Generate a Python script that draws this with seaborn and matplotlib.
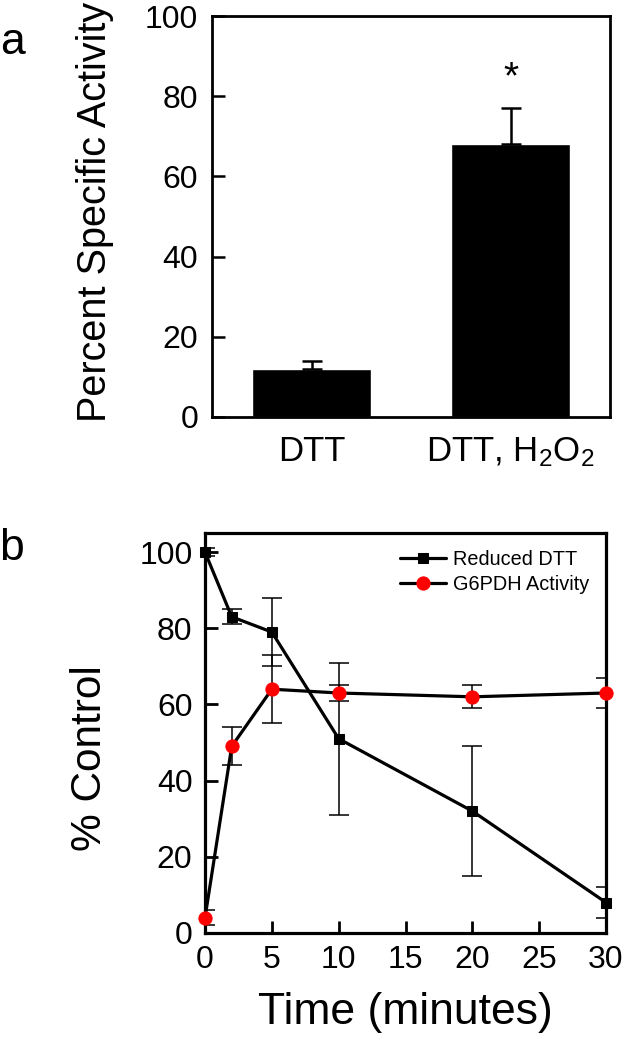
import numpy as np
import pandas as pd
import matplotlib
matplotlib.use("Agg")
import matplotlib.pyplot as plt
import seaborn as sns

# ---- data ----
conditions = ["DTT", "DTT, H$\\mathregular{_2}$O$\\mathregular{_2}$"]
activity = [12, 68]
activity_err = [2, 9]

time_min = [0, 2, 5, 10, 20, 30]
reduced_dtt = [100, 83, 79, 51, 32, 8]
reduced_dtt_err = [1, 2, 9, 20, 17, 4]
g6pdh = [4, 49, 64, 63, 62, 63]
g6pdh_err = [2, 5, 9, 2, 3, 4]

sns.set_theme(style="white")
plt.rcParams["font.family"] = ["Liberation Sans", "DejaVu Sans"]
plt.rcParams["mathtext.fontset"] = "custom"
plt.rcParams["mathtext.rm"] = "Liberation Sans"
for k in ["text.color", "axes.labelcolor", "xtick.color", "ytick.color", "axes.edgecolor"]:
    plt.rcParams[k] = "black"

fig = plt.figure(figsize=(6.24, 10.5), dpi=100)

# ---- panel a ----
ax1 = fig.add_axes([212/624, 1-417/1050, 398/624, 401/1050])
df_a = pd.DataFrame({"cond": conditions, "act": activity})
sns.barplot(data=df_a, x="cond", y="act", color="black", width=0.6,
            errorbar=None, ax=ax1, saturation=1)
ax1.errorbar(range(len(conditions)), activity,
             yerr=[[0]*len(activity), activity_err], fmt="none",
             ecolor="black", elinewidth=1.8, capsize=7, capthick=1.8, zorder=1)
ax1.set_xlim(-0.5, 1.5)
ax1.set_ylim(0, 100)
ax1.set_yticks([0, 20, 40, 60, 80, 100])
ax1.set_xlabel("")
ax1.set_ylabel("")
ax1.tick_params(axis="y", direction="in", length=9, width=1.8, labelsize=23, pad=10, left=True)
ax1.tick_params(axis="x", length=0, labelsize=25, pad=13)
for s in ax1.spines.values():
    s.set_visible(True)
    s.set_linewidth(2)
    s.set_color("black")
ax1.text(1, 84.5, "*", ha="center", va="center", fontsize=28)
fig.text(95/624, 1-212/1050, "Percent Specific Activity", rotation=90,
         ha="center", va="center", fontsize=28.5)
fig.text(12/624, 1-42/1050, "a", ha="center", va="center", fontsize=32)

# ---- panel b ----
ax2 = fig.add_axes([205/624, 1-933/1050, 401/624, 400/1050])
ax2.errorbar(time_min, reduced_dtt, yerr=reduced_dtt_err, fmt="none",
             ecolor="black", elinewidth=1.1, capsize=7.5, capthick=1.1, zorder=1)
ax2.errorbar(time_min, g6pdh, yerr=g6pdh_err, fmt="none",
             ecolor="black", elinewidth=1.1, capsize=7.5, capthick=1.1, zorder=1)
df_b = pd.DataFrame({"t": time_min, "dtt": reduced_dtt, "g6": g6pdh})
sns.lineplot(data=df_b, x="t", y="dtt", ax=ax2, color="black", lw=2.3,
             marker="s", markersize=7.5, markeredgecolor="black",
             markerfacecolor="black", label="Reduced DTT", zorder=3, clip_on=False)
sns.lineplot(data=df_b, x="t", y="g6", ax=ax2, color="black", lw=2.3,
             marker="o", markersize=9.5, markeredgecolor="red",
             markerfacecolor="red", label="G6PDH Activity", zorder=4, clip_on=False)
ax2.set_xlim(0, 30)
ax2.set_ylim(0, 105)
ax2.set_xticks([0, 5, 10, 15, 20, 25, 30])
ax2.set_yticks([0, 20, 40, 60, 80, 100])
ax2.set_xlabel("Time (minutes)", fontsize=32, labelpad=12)
ax2.set_ylabel("")
ax2.tick_params(axis="both", direction="in", length=9, width=2, labelsize=23, pad=9,
                left=True, bottom=True)
for s in ax2.spines.values():
    s.set_visible(True)
    s.set_linewidth(2.3)
    s.set_color("black")
leg = ax2.legend(loc="upper right", frameon=False, fontsize=14.3, handlelength=2.3,
                 handletextpad=0.35, labelspacing=0.3, borderaxespad=0.45)
fig.text(90/624, 1-758/1050, "% Control", rotation=90,
         ha="center", va="center", fontsize=30.5)
fig.text(12/624, 1-548/1050, "b", ha="center", va="center", fontsize=32)

fig.savefig("out.png", dpi=100)
